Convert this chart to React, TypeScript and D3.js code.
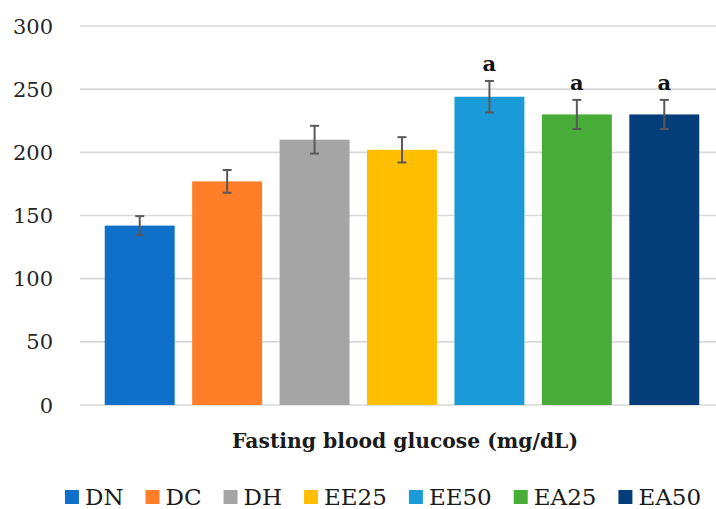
import React from 'react'
import * as d3 from 'd3'

const groups = ['DN', 'DC', 'DH', 'EE25', 'EE50', 'EA25', 'EA50']
const means = [142, 177, 210, 202, 244, 230, 230]
const errors = [7.5, 9, 11, 10, 12.5, 11.5, 11.5]
const letters = ['', '', '', '', 'a', 'a', 'a']
const colors = ['#0E70C8', '#FF7E27', '#A5A5A5', '#FFBE00', '#1A9AD6', '#47AD38', '#043E7A']
const yTicks = [0, 50, 100, 150, 200, 250, 300]
const xTitle = 'Fasting blood glucose (mg/dL)'

const width = 716
const height = 509
const serif = '"DejaVu Serif", serif'

const measure = (txt: string, font: string) => {
  const ctx = document.createElement('canvas').getContext('2d')
  if (!ctx) return txt.length * 14
  ctx.font = font
  return ctx.measureText(txt).width
}

const App = () => {
  const y = d3.scaleLinear().domain([0, 300]).range([405, 26])
  const x = d3.scaleBand<string>()
    .domain(groups)
    .range([96, 708])
    .paddingInner(0.2)
    .paddingOuter(0.1)

  // legend layout: square, text, gap; centred on the plot
  const legendFont = `23px ${serif}`
  const items = groups.map(g => ({ g, w: 20 + measure(g, legendFont) }))
  const total = d3.sum(items, d => d.w) + 22 * (items.length - 1)
  let cursor = 383 - total / 2
  const legend = items.map((d, i) => {
    const pos = cursor
    cursor += d.w + 22
    return { ...d, x: pos, color: colors[i] }
  })

  return (
    <svg width={width} height={height} style={{ position: 'absolute', left: 0, top: 0, background: '#fff', fontFamily: serif }}>
      <g>
        {yTicks.map(t => (
          <g key={t}>
            <line x1={80} x2={716} y1={y(t)} y2={y(t)} stroke="#d9d9d9" strokeWidth={1.6} />
            <text x={53} y={y(t)} dy="0.36em" textAnchor="end" fontSize={21} fill="#262626">
              {t}
            </text>
          </g>
        ))}
      </g>
      <g>
        {groups.map((g, i) => {
          const bx = x(g) ?? 0
          const cx = bx + x.bandwidth() / 2
          const top = y(means[i] + errors[i])
          const bot = y(means[i] - errors[i])
          return (
            <g key={g}>
              <rect x={bx} y={y(means[i])} width={x.bandwidth()} height={y(0) - y(means[i])} fill={colors[i]} />
              <g stroke="#595959" strokeWidth={2}>
                <line x1={cx} x2={cx} y1={top} y2={bot} />
                <line x1={cx - 4.5} x2={cx + 4.5} y1={top} y2={top} />
                <line x1={cx - 4.5} x2={cx + 4.5} y1={bot} y2={bot} />
              </g>
              {letters[i] && (
                <text x={cx} y={top - 10} textAnchor="middle" fontWeight="bold" fontSize={21} fill="#111">
                  {letters[i]}
                </text>
              )}
            </g>
          )
        })}
      </g>
      <text x={405} y={448} textAnchor="middle" fontWeight="bold" fontSize={20}
        textLength={346} lengthAdjust="spacingAndGlyphs" fill="#1a1a1a">
        {xTitle}
      </text>
      <g>
        {legend.map(d => (
          <g key={d.g} transform={`translate(${d.x},0)`}>
            <rect x={0} y={490} width={14} height={14} fill={d.color} />
            <text x={20} y={505} fontSize={23} fill="#1a1a1a">{d.g}</text>
          </g>
        ))}
      </g>
    </svg>
  )
}

export default App
